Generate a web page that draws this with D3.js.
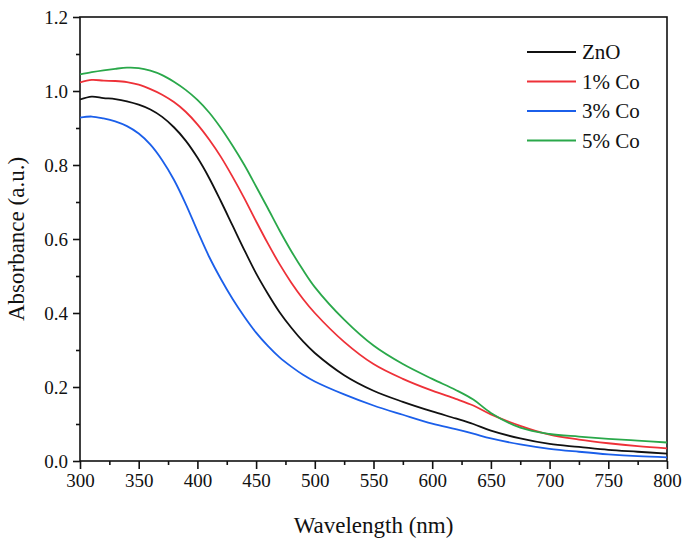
<!DOCTYPE html>
<html lang="en">
<head>
<meta charset="UTF-8" />
<title>absorbance</title>
<script src="https://cdn.jsdelivr.net/npm/d3@7/dist/d3.min.js"></script>
<style>
  body { margin: 0; background: #fff; }
</style>
</head>
<body>
<svg id="svg"></svg>
<script>
// wavelength (nm)
const wavelengths = [300, 310, 320, 330, 340, 350, 360, 370, 380, 390, 400, 410, 420, 430, 440, 450, 460, 470, 480, 490, 500,
  525, 550, 575, 600, 620, 635, 650, 675, 700, 725, 750, 775, 800];

const zno = [0.977, 0.985, 0.981, 0.978, 0.972, 0.963, 0.950, 0.930, 0.902, 0.866, 0.820, 0.765, 0.702, 0.636, 0.570, 0.507,
  0.452, 0.402, 0.360, 0.323, 0.292, 0.232, 0.190, 0.160, 0.134, 0.115, 0.100, 0.082, 0.061, 0.046, 0.038, 0.030, 0.025, 0.020];
const co1 = [1.023, 1.030, 1.028, 1.027, 1.024, 1.017, 1.005, 0.990, 0.970, 0.944, 0.910, 0.869, 0.822, 0.768, 0.710, 0.648,
  0.588, 0.532, 0.482, 0.438, 0.400, 0.322, 0.262, 0.222, 0.190, 0.168, 0.150, 0.126, 0.095, 0.071, 0.058, 0.048, 0.040, 0.034];
const co3 = [0.928, 0.931, 0.926, 0.918, 0.905, 0.885, 0.855, 0.813, 0.760, 0.695, 0.622, 0.552, 0.492, 0.438, 0.390, 0.347,
  0.311, 0.280, 0.255, 0.233, 0.215, 0.180, 0.150, 0.125, 0.101, 0.086, 0.074, 0.061, 0.045, 0.033, 0.025, 0.018, 0.013, 0.010];
const co5 = [1.045, 1.051, 1.056, 1.060, 1.063, 1.062, 1.055, 1.043, 1.025, 1.003, 0.976, 0.942, 0.900, 0.852, 0.800, 0.742,
  0.683, 0.623, 0.567, 0.516, 0.470, 0.382, 0.312, 0.262, 0.222, 0.192, 0.166, 0.130, 0.090, 0.073, 0.066, 0.060, 0.055, 0.050];

const seriesNames = ["ZnO", "1% Co", "3% Co", "5% Co"];
const seriesValues = [zno, co1, co3, co5];
const seriesColors = ["#111111", "#ee3138", "#1b5fea", "#2aa84a"];

const xTicks = [300, 350, 400, 450, 500, 550, 600, 650, 700, 750, 800];
const yTicks = [0, 0.2, 0.4, 0.6, 0.8, 1.0, 1.2];

const width = 684, height = 541;
const margin = { top: 17, right: 17, bottom: 80, left: 80 };
const serif = "Liberation Serif";

const svg = d3.select("#svg").attr("width", width).attr("height", height);

const x = d3.scaleLinear().domain([300, 800]).range([margin.left, width - margin.right]);
const y = d3.scaleLinear().domain([0, 1.2]).range([height - margin.bottom, margin.top]);

// frame
svg.append("rect")
  .attr("x", x(300)).attr("y", y(1.2))
  .attr("width", x(800) - x(300)).attr("height", y(0) - y(1.2))
  .attr("fill", "none").attr("stroke", "#111").attr("stroke-width", 1.6);

// curves
const line = d3.line()
  .x((d, i) => x(wavelengths[i]))
  .y(d => y(d))
  .curve(d3.curveCatmullRom.alpha(0.5));

svg.selectAll(".curve")
  .data(seriesValues)
  .join("path")
  .attr("class", "curve")
  .attr("d", d => line(d))
  .attr("fill", "none")
  .attr("stroke", (d, i) => seriesColors[i])
  .attr("stroke-width", 1.8);

// axes
svg.append("g")
  .attr("transform", `translate(0,${y(0)})`)
  .call(d3.axisBottom(x).tickValues(xTicks).tickSize(8).tickPadding(5).tickFormat(d3.format("d")));
svg.append("g")
  .attr("transform", `translate(0,${y(0)})`)
  .call(d3.axisBottom(x).tickValues(d3.range(325, 800, 50)).tickSize(4).tickFormat(""));

svg.append("g")
  .attr("transform", `translate(${x(300)},0)`)
  .call(d3.axisLeft(y).tickValues(yTicks).tickSize(7).tickPadding(5).tickFormat(d3.format(".1f")));
svg.append("g")
  .attr("transform", `translate(${x(300)},0)`)
  .call(d3.axisLeft(y).tickValues([0.1, 0.3, 0.5, 0.7, 0.9, 1.1]).tickSize(4).tickFormat(""));

svg.selectAll("g").attr("font-family", serif);
svg.selectAll(".domain").remove();
svg.selectAll(".tick line").attr("stroke", "#111").attr("stroke-width", 1.6);
svg.selectAll(".tick text").attr("font-size", 19);

// axis titles
svg.append("text")
  .attr("x", (x(300) + x(800)) / 2)
  .attr("y", 533)
  .attr("text-anchor", "middle")
  .attr("font-size", 23)
  .text("Wavelength (nm)");

svg.append("text")
  .attr("transform", `translate(24,${(y(0) + y(1.2)) / 2}) rotate(-90)`)
  .attr("text-anchor", "middle")
  .attr("font-size", 23)
  .text("Absorbance (a.u.)");

// legend
const legend = svg.selectAll(".legend")
  .data(seriesNames)
  .join("g")
  .attr("class", "legend")
  .attr("transform", (d, i) => `translate(527,${52 + i * 29.5})`);

legend.append("line")
  .attr("x1", 0).attr("x2", 49)
  .attr("stroke", (d, i) => seriesColors[i])
  .attr("stroke-width", 2);

legend.append("text")
  .attr("x", 55)
  .attr("dy", "0.35em")
  .attr("font-size", 21)
  .text(d => d);

svg.selectAll("text")
  .attr("font-family", serif)
  .attr("fill", "#111");
</script>
</body>
</html>
